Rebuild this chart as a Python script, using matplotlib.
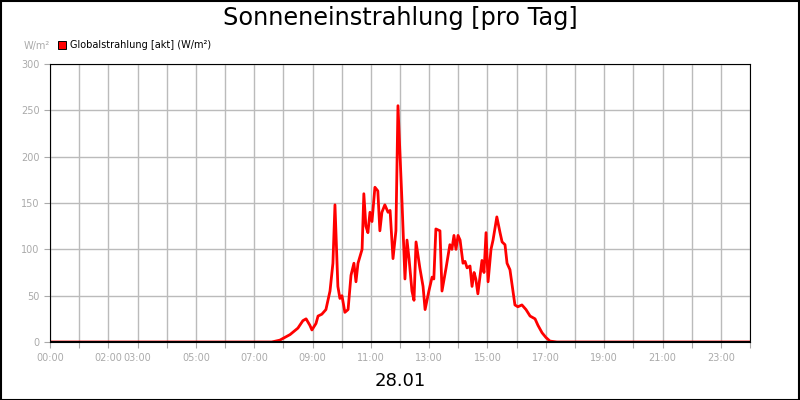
import matplotlib
matplotlib.use("Agg")
import matplotlib.pyplot as plt
from matplotlib.patches import Rectangle

hours = [0, 7.6, 7.88, 8.23, 8.50, 8.67, 8.78, 8.91, 8.98, 9.12, 9.19, 9.32, 9.46, 9.60, 9.70, 9.77,
         9.87, 9.94, 10.01, 10.11, 10.22, 10.32, 10.42, 10.49, 10.56, 10.70, 10.76, 10.83, 10.90,
         10.97, 11.04, 11.14, 11.24, 11.31, 11.38, 11.48, 11.59, 11.66, 11.76, 11.86, 11.93, 12.07,
         12.17, 12.24, 12.31, 12.41, 12.48, 12.55, 12.68, 12.79, 12.86, 12.99, 13.10, 13.16, 13.23,
         13.37, 13.44, 13.58, 13.71, 13.78, 13.85, 13.92, 13.99, 14.06, 14.16, 14.23, 14.30, 14.40,
         14.47, 14.54, 14.60, 14.67, 14.74, 14.81, 14.88, 14.95, 15.02, 15.12, 15.19, 15.32, 15.43,
         15.50, 15.60, 15.67, 15.77, 15.94, 16.04, 16.18, 16.32, 16.46, 16.63, 16.73, 16.87, 17.00,
         17.14, 17.38, 24]
values = [0, 0, 2, 8, 15, 23, 25, 18, 13, 20, 28, 30, 35, 55, 85, 148,
          60, 47, 50, 32, 35, 72, 85, 65, 85, 100, 160, 125, 118,
          140, 130, 167, 163, 120, 140, 148, 140, 142, 90, 120, 255, 150,
          68, 110, 90, 55, 45, 108, 80, 60, 35, 55, 70, 68, 122,
          120, 55, 80, 105, 100, 115, 100, 115, 110, 85, 87, 80, 82,
          60, 75, 68, 52, 70, 88, 75, 118, 65, 100, 110, 135, 118,
          108, 105, 85, 78, 40, 38, 40, 35, 28, 25, 18, 10, 5,
          1, 0, 0]
tick_pos = [0, 2, 3, 5, 7, 9, 11, 13, 15, 17, 19, 21, 23]
tick_labels = ["00:00", "02:00", "03:00", "05:00", "07:00", "09:00", "11:00", "13:00",
               "15:00", "17:00", "19:00", "21:00", "23:00"]
yticks = [0, 50, 100, 150, 200, 250, 300]

fig = plt.figure(figsize=(8, 4), dpi=100)
fig.patches.append(Rectangle((0.001, 0.001), 0.998, 0.997, transform=fig.transFigure,
                             fill=False, edgecolor="black", linewidth=1.5))
ax = fig.add_axes([0.0625, 0.145, 0.875, 0.695])
ax.plot(hours, values, color="#ff0000", linewidth=2)
ax.set_xlim(0, 24)
ax.set_ylim(0, 300)
ax.set_xticks(range(25), minor=False)
ax.set_xticklabels([""] * 25)
for p, l in zip(tick_pos, tick_labels):
    ax.text(p, -12, l, ha="center", va="top", fontsize=7, color="#aaaaaa",
            transform=ax.transData)
ax.set_yticks(yticks)
ax.tick_params(axis="y", labelsize=7, labelcolor="#aaaaaa", color="#aaaaaa", length=4)
ax.tick_params(axis="x", color="#aaaaaa", length=4)
ax.grid(True, color="#bbbbbb", linewidth=1)
ax.axhline(0, color="black", linewidth=1.5, zorder=3)
for s in ax.spines.values():
    s.set_color("black")
fig.text(0.5, 0.955, "Sonneneinstrahlung [pro Tag]", ha="center", va="center", fontsize=17.3)
fig.text(0.5, 0.048, "28.01", ha="center", va="center", fontsize=13)
fig.text(0.03, 0.885, "W/m²", fontsize=7, color="#aaaaaa", va="center")
fig.patches.append(Rectangle((0.073, 0.878), 0.01, 0.02, transform=fig.transFigure,
                             facecolor="#ff0000", edgecolor="black", linewidth=0.7))
fig.text(0.087, 0.888, "Globalstrahlung [akt] (W/m²)", fontsize=7, va="center")
fig.savefig("out.png", dpi=100)
